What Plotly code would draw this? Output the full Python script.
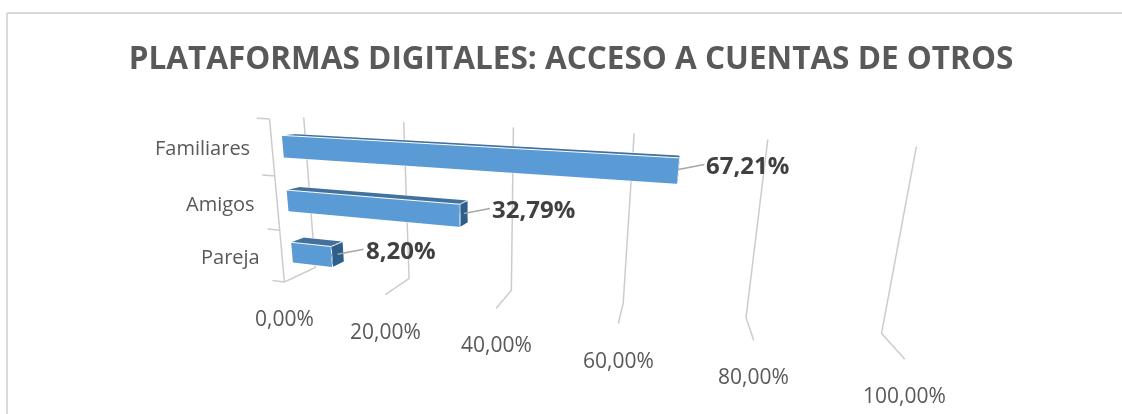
import plotly.graph_objects as go

categorias = ["Pareja", "Amigos", "Familiares"]
valores = [8.20, 32.79, 67.21]
ticks = [0, 20, 40, 60, 80, 100]
tick_labels = ["0,00%", "20,00%", "40,00%", "60,00%", "80,00%", "100,00%"]
titulo = "PLATAFORMAS DIGITALES: ACCESO A CUENTAS DE OTROS"

W, H = 1122, 414
XR, YR, ZR = [-3, 101], [-0.02, 1.02], [-0.02, 3.02]

BLUE, TOP, END = "#5B9BD5", "#41719C", "#2E5F8A"
GRID = "#CCCCCC"
BAR_Y = (0.3, 0.7)   # bar depth inside the category slot
BAR_H = 0.4          # bar thickness as share of a category band

fig = go.Figure()

# back-wall verticals, floor lines and the category axis with its ticks
gx, gy, gz = [], [], []
for t in ticks:
    gx += [t, t, t, None]; gy += [1, 1, 0, None]; gz += [3, 0, 0, None]
gx += [0, 0, None]; gy += [0, 0, None]; gz += [0, 3, None]
for k in range(4):
    gx += [0, -2.5, None]; gy += [0, 0, None]; gz += [k, k, None]
fig.add_trace(go.Scatter3d(x=gx, y=gy, z=gz, mode="lines",
                           line=dict(color=GRID, width=3), hoverinfo="skip"))

# 3-D bars: flat-shaded boxes with white edges
for i, v in enumerate(valores):
    z0, z1 = i + 0.5 - BAR_H / 2, i + 0.5 + BAR_H / 2
    y0, y1 = BAR_Y
    xs = [0, v, v, 0, 0, v, v, 0]
    ys = [y0, y0, y1, y1, y0, y0, y1, y1]
    zs = [z0, z0, z0, z0, z1, z1, z1, z1]
    quads = [((0, 1, 5, 4), BLUE), ((4, 5, 6, 7), TOP), ((1, 2, 6, 5), END),
             ((0, 1, 2, 3), BLUE), ((3, 2, 6, 7), BLUE), ((0, 3, 7, 4), BLUE)]
    I, J, K, cols = [], [], [], []
    for (a, b, c, d), col in quads:
        I += [a, a]; J += [b, c]; K += [c, d]; cols += [col, col]
    fig.add_trace(go.Mesh3d(x=xs, y=ys, z=zs, i=I, j=J, k=K, facecolor=cols,
                            flatshading=True, hoverinfo="skip",
                            lighting=dict(ambient=1, diffuse=0, specular=0, roughness=1, fresnel=0)))
    lx, ly, lz = [], [], []
    for a, b in [((0, y0, z1), (v, y0, z1)), ((v, y0, z0), (v, y0, z1)),
                 ((0, y1, z1), (v, y1, z1)), ((v, y0, z1), (v, y1, z1)),
                 ((v, y1, z0), (v, y1, z1)), ((0, y0, z0), (v, y0, z0)),
                 ((0, y0, z0), (0, y0, z1)), ((v, y0, z0), (v, y1, z0))]:
        lx += [a[0], b[0], None]; ly += [a[1], b[1], None]; lz += [a[2], b[2], None]
    fig.add_trace(go.Scatter3d(x=lx, y=ly, z=lz, mode="lines",
                               line=dict(color="white", width=2), hoverinfo="skip"))

ann = []
for t, lab in zip(ticks, tick_labels):
    ann.append(dict(x=t, y=0, z=0, text=lab, showarrow=False, yshift=-36,
                    font=dict(family="Open Sans", size=21, color="#595959")))
for i, c in enumerate(categorias):
    ann.append(dict(x=0, y=0, z=i + 0.5, text=c, showarrow=False, xanchor="right", xshift=-20,
                    font=dict(family="Open Sans", size=20, color="#595959")))
for i, v in enumerate(valores):
    ann.append(dict(x=v, y=0.5, z=i + 0.5, text="<b>" + f"{v:.2f}".replace(".", ",") + "%</b>",
                    showarrow=True, arrowhead=0, arrowwidth=1.5, arrowcolor="#A6A6A6",
                    ax=26, ay=-5, xanchor="left",
                    font=dict(family="Open Sans", size=24, color="#404040")))

axis = dict(visible=False, showspikes=False)
fig.update_layout(
    width=W, height=H, margin=dict(l=0, r=0, t=0, b=0),
    paper_bgcolor="white", showlegend=False,
    title=dict(text="<b>" + titulo + "</b>", x=571 / W, xanchor="center", y=1 - 58 / H, yanchor="middle",
               font=dict(family="Open Sans", size=31.5, color="#595959")),
    scene=dict(
        domain=dict(x=[0, 1], y=[0, 1]),
        xaxis=dict(range=XR, **axis), yaxis=dict(range=YR, **axis), zaxis=dict(range=ZR, **axis),
        aspectmode="manual", aspectratio=dict(x=2.0, y=0.1622, z=0.5631),
        camera=dict(eye=dict(x=0.3166, y=-1.4720, z=0.3796),
                    center=dict(x=0.0056, y=0.0112, z=0.0445),
                    up=dict(x=-0.0777, y=0.2041, z=0.9758),
                    projection=dict(type="perspective")),
        annotations=ann,
    ),
    shapes=[dict(type="line", xref="paper", yref="paper", x0=7 / W, x1=1, y0=1 - 13 / H, y1=1 - 13 / H,
                 line=dict(color="#D9D9D9", width=2)),
            dict(type="line", xref="paper", yref="paper", x0=7 / W, x1=7 / W, y0=0, y1=1 - 13 / H,
                 line=dict(color="#D9D9D9", width=2))],
)
fig.write_html("out.html")
